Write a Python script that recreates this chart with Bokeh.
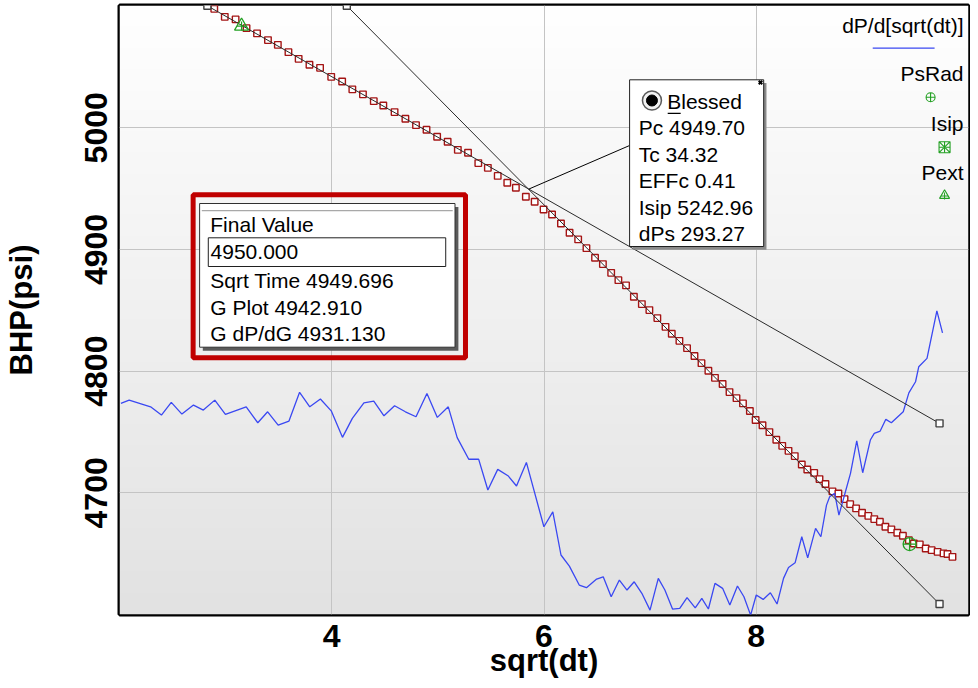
import numpy as np
from bokeh.plotting import figure
from bokeh.models import FixedTicker, Label, BoxAnnotation, Range1d
from bokeh.embed import file_html
from bokeh.resources import INLINE

# ---------------- data ----------------
sqrt_dt = [2.893, 2.992, 3.094, 3.197, 3.296, 3.399, 3.492, 3.592, 3.688, 3.790,
           3.890, 3.995, 4.098, 4.194, 4.294, 4.396, 4.486, 4.592, 4.694, 4.794,
           4.893, 4.993, 5.092, 5.188, 5.284, 5.381, 5.471, 5.564, 5.654, 5.735,
           5.829, 5.912, 5.996, 6.076, 6.160, 6.241, 6.322, 6.400, 6.481, 6.555,
           6.633, 6.701, 6.773, 6.847, 6.922, 6.993, 7.068, 7.145, 7.204, 7.276,
           7.348, 7.418, 7.484, 7.549, 7.611, 7.683, 7.748, 7.814, 7.875, 7.940,
           7.994, 8.059, 8.124, 8.189, 8.245, 8.304, 8.363, 8.429, 8.481, 8.546,
           8.596, 8.652, 8.718, 8.774, 8.832, 8.885, 8.941, 8.997, 9.056, 9.112,
           9.165, 9.217, 9.273, 9.329, 9.382, 9.438, 9.485, 9.541, 9.597, 9.653,
           9.709, 9.765, 9.802, 9.849]
bhp = [5097.8, 5091.2, 5089.1, 5081.9, 5077.6, 5072.1, 5068.2, 5062.2, 5056.7, 5051.8,
       5049.3, 5041.9, 5038.1, 5031.6, 5027.5, 5021.9, 5018.4, 5012.9, 5007.4, 5002.2,
       4998.4, 4992.6, 4988.5, 4981.9, 4979.5, 4971.0, 4967.1, 4960.5, 4954.8, 4950.7,
       4943.3, 4939.2, 4932.9, 4928.8, 4921.4, 4913.7, 4908.3, 4901.1, 4893.2, 4888.0,
       4880.8, 4874.8, 4870.5, 4861.1, 4855.1, 4850.2, 4843.6, 4836.4, 4830.7, 4824.9,
       4818.9, 4812.4, 4806.6, 4800.3, 4794.5, 4789.4, 4782.8, 4777.8, 4773.5, 4767.2,
       4759.8, 4755.6, 4749.9, 4743.6, 4738.6, 4734.5, 4730.2, 4723.3, 4719.2, 4716.4,
       4711.3, 4707.2, 4701.2, 4699.5, 4694.8, 4690.7, 4687.2, 4683.6, 4681.1, 4678.4,
       4676.2, 4672.1, 4670.0, 4667.2, 4664.7, 4661.1, 4658.4, 4657.6, 4654.3, 4652.9,
       4651.5, 4650.2, 4649.7, 4647.4]

deriv_x = [2.013, 2.091, 2.293, 2.395, 2.488, 2.588, 2.697, 2.790, 2.898, 2.998,
           3.194, 3.303, 3.396, 3.495, 3.597, 3.697, 3.793, 3.893, 3.995, 4.101,
           4.194, 4.303, 4.396, 4.492, 4.592, 4.694, 4.794, 4.897, 4.995, 5.098,
           5.182, 5.291, 5.384, 5.471, 5.564, 5.664, 5.741, 5.834, 5.999, 6.083,
           6.160, 6.239, 6.332, 6.400, 6.496, 6.558, 6.633, 6.710, 6.782, 6.850,
           6.922, 6.999, 7.077, 7.139, 7.211, 7.279, 7.348, 7.425, 7.487, 7.549,
           7.611, 7.683, 7.751, 7.823, 7.884, 7.947, 8.000, 8.065, 8.133, 8.196,
           8.257, 8.304, 8.366, 8.429, 8.485, 8.559, 8.609, 8.662, 8.692, 8.739,
           8.779, 8.832, 8.888, 8.947, 9.003, 9.075, 9.112, 9.168, 9.221, 9.273,
           9.385, 9.438, 9.501, 9.531, 9.609, 9.702, 9.755]
deriv_y = [4773.5, 4776.2, 4770.7, 4763.9, 4774.3, 4764.7, 4772.1, 4768.0, 4776.2, 4764.5,
           4770.7, 4757.6, 4766.6, 4755.7, 4759.0, 4782.6, 4770.7, 4777.1, 4767.4, 4745.6,
           4761.2, 4774.0, 4775.4, 4763.3, 4771.6, 4766.6, 4762.5, 4781.7, 4762.0, 4770.7,
           4745.4, 4727.6, 4727.7, 4702.3, 4719.3, 4713.8, 4705.6, 4725.0, 4672.1, 4684.4,
           4648.9, 4639.8, 4624.2, 4622.0, 4629.1, 4631.0, 4614.6, 4628.3, 4620.1, 4626.9,
           4617.4, 4603.6, 4629.7, 4620.1, 4604.5, 4605.0, 4613.8, 4605.5, 4613.3, 4604.5,
           4625.6, 4621.5, 4607.8, 4623.4, 4614.6, 4599.5, 4616.0, 4612.4, 4617.9, 4608.6,
           4629.7, 4638.7, 4642.5, 4663.9, 4646.6, 4670.8, 4663.9, 4689.9, 4696.8, 4699.6,
           4681.7, 4698.2, 4716.0, 4742.8, 4716.5, 4743.4, 4748.9, 4750.8, 4760.4, 4757.6,
           4766.6, 4782.2, 4791.3, 4803.6, 4810.5, 4849.6, 4831.5]

tangent_early_x = [2.828, 9.727]
tangent_early_y = [5100.3, 4757.1]
tangent_late_x = [4.142, 9.727]
tangent_late_y = [5100.3, 4608.6]

psrad_x, psrad_y = [9.445], [4657.9]
pext_x, pext_y = [3.150], [5083.6]

callout_names = ["Pc", "Tc", "EFFc", "Isip", "dPs"]
callout_values = [4949.70, 34.32, 0.41, 5242.96, 293.27]
final_value = 4950.000
final_names = ["Sqrt Time", "G Plot", "G dP/dG"]
final_values = [4949.696, 4942.910, 4931.130]

legend_names = ["dP/d[sqrt(dt)]", "PsRad", "Isip", "Pext"]
x_ticks = [4, 6, 8]
y_ticks = [4700, 4800, 4900, 5000]

# ---------------- geometry ----------------
W, H = 970, 680
LEFT, TOP, RIGHT, BOTTOM = 117, 5, 2, 66
FRAME_W = W - LEFT - RIGHT
FRAME_H = H - TOP - BOTTOM
PX_PER_PSI = 1.2167
X_START, X_END = 2.0, 10.0
Y_START = 4600.0
Y_END = Y_START + FRAME_H / PX_PER_PSI
PX_X = FRAME_W / (X_END - X_START)


def ax(px):
    """reference pixel column -> data x (for annotation placement)"""
    return X_START + (px - LEFT) / PX_X


def ay(py):
    """reference pixel row -> data y (for annotation placement)"""
    return Y_END - (py - TOP) / PX_PER_PSI


FONT = "Liberation Sans"
GREEN = "#22a022"
BLUE = "#3a48f2"

p = figure(width=W, height=H,
           x_range=Range1d(X_START, X_END), y_range=Range1d(Y_START, Y_END),
           output_backend="svg", toolbar_location=None,
           min_border_left=LEFT, min_border_right=RIGHT,
           min_border_top=TOP, min_border_bottom=BOTTOM)

p.background_fill_color = "white"
p.border_fill_color = "white"
p.outline_line_color = "black"
p.outline_line_width = 4

# gradient background of the plot area
N = 256
g = np.linspace(226, 255, N).astype(np.uint8)
img = np.empty((N, 1), dtype=np.uint32)
view = img.view(dtype=np.uint8).reshape((N, 1, 4))
view[:, 0, 0] = g
view[:, 0, 1] = g
view[:, 0, 2] = g
view[:, 0, 3] = 255
p.image_rgba(image=[img], x=X_START, y=Y_START, dw=X_END - X_START, dh=Y_END - Y_START,
             level="image")

# axes
p.xaxis.ticker = FixedTicker(ticks=x_ticks)
p.yaxis.ticker = FixedTicker(ticks=y_ticks)
p.xgrid.ticker = FixedTicker(ticks=x_ticks)
p.ygrid.ticker = FixedTicker(ticks=y_ticks)
p.grid.grid_line_color = "#c4c4c4"
p.grid.grid_line_width = 1
p.xaxis.axis_label = "sqrt(dt)"
p.yaxis.axis_label = "BHP(psi)"
for a in p.axis:
    a.axis_line_color = None
    a.major_tick_line_color = None
    a.minor_tick_line_color = None
    a.major_label_text_font = FONT
    a.major_label_text_font_style = "bold"
    a.major_label_text_font_size = "32px"
    a.major_label_text_color = "black"
    a.axis_label_text_font = FONT
    a.axis_label_text_font_style = "bold"
    a.axis_label_text_font_size = "31px"
    a.axis_label_text_color = "black"
p.yaxis.major_label_orientation = "vertical"
p.xaxis.major_label_standoff = 4
p.xaxis.axis_label_standoff = -7
p.yaxis.major_label_standoff = 6
p.yaxis.axis_label_standoff = 44

# data glyphs
p.scatter(sqrt_dt, bhp, marker="square", size=6.5, fill_color="white",
          line_color="#a41414", line_width=1.4)
p.line(deriv_x, deriv_y, line_color=BLUE, line_width=1.3)
p.line(tangent_early_x, tangent_early_y, line_color="#2a2a2a", line_width=1)
p.line(tangent_late_x, tangent_late_y, line_color="#2a2a2a", line_width=1)
p.scatter(tangent_early_x + tangent_late_x, tangent_early_y + tangent_late_y, marker="square",
          size=7, fill_color="white", line_color="#404040", line_width=1.4)

pc_value = callout_values[0]
pc_x = float(np.sqrt(callout_values[1]))
p.line([pc_x, ax(628.3)], [pc_value, ay(145)], line_color="black", line_width=1)

p.scatter(psrad_x, psrad_y, marker="circle_cross", size=13, fill_color=None,
          line_color=GREEN, line_width=1.3)
p.scatter(pext_x, pext_y, marker="triangle", size=14, fill_color=None,
          line_color=GREEN, line_width=1.3)
p.scatter(pext_x, pext_y, marker="cross", size=9, line_color=GREEN, line_width=1.2)

# legend (right side)
LR = 963
p.line([ax(872), ax(934)], [ay(47.7), ay(47.7)], line_color=BLUE, line_width=1.3)
p.scatter([ax(930)], [ay(96.7)], marker="circle_cross", size=9, fill_color=None,
          line_color=GREEN, line_width=1.1)
p.scatter([ax(944)], [ay(146.7)], marker="square_x", size=11, fill_color=None,
          line_color=GREEN, line_width=1.1)
p.scatter([ax(944)], [ay(146.7)], marker="cross", size=11, line_color=GREEN, line_width=1.1)
p.scatter([ax(944)], [ay(195)], marker="triangle", size=10, fill_color=None,
          line_color=GREEN, line_width=1.1)
p.scatter([ax(944)], [ay(195.5)], marker="cross", size=7, line_color=GREEN, line_width=1.0)
for name, py in zip(legend_names, [25, 73.3, 123, 171.7]):
    p.add_layout(Label(x=ax(LR), y=ay(py), text=name, text_align="right",
                       text_baseline="middle", text_font=FONT, text_font_size="21px",
                       text_color="black"))


def box(l, t, r, b, fill=None, line=None, lw=1):
    return BoxAnnotation(left=ax(l), right=ax(r), top=ay(t), bottom=ay(b),
                         fill_color=fill, fill_alpha=1.0 if fill else 0.0,
                         line_color=line, line_width=lw, line_alpha=1.0 if line else 0.0)


def text(px, py, s, align="left"):
    return Label(x=ax(px), y=ay(py), text=s, text_align=align, text_baseline="middle",
                 text_font=FONT, text_font_size="21px", text_color="black")


# callout box
p.add_layout(box(631.5, 82.5, 765.5, 249.3, fill="#8a8a8a"))
p.add_layout(box(628.3, 79.3, 762.7, 246, fill="white", line="#202020"))
p.add_layout(text(666, 100.5, "Blessed"))
p.add_layout(box(666.5, 112.2, 679.5, 113.6, fill="black"))
for i, (n, v) in enumerate(zip(callout_names, callout_values)):
    p.add_layout(text(637.5, 127 + i * 26.6, f"{n} {v:.2f}"))
p.scatter([ax(650.7)], [ay(100)], marker="circle", size=19, fill_color="#f2f2f2",
          line_color="#5a5a5a", line_width=1.5, level="overlay")
p.scatter([ax(650.7)], [ay(100)], marker="circle", size=11, fill_color="black",
          line_color="black", level="overlay")
p.scatter([ax(759.5)], [ay(82)], marker="x", size=5, line_color="black", line_width=2,
          level="overlay")

# final value box
p.add_layout(box(200.5, 206.5, 456.7, 350.3, fill="#5a5a5a"))
p.add_layout(box(197.3, 203, 453.3, 346.7, fill="white", line="#303030"))
p.add_layout(box(199.5, 209.5, 451, 210.8, fill="#a8a8a8"))
p.add_layout(text(208, 224, "Final Value"))
p.add_layout(box(206, 237.3, 444, 266, fill="white", line="#202020"))
p.add_layout(text(208.3, 251, f"{final_value:.3f}"))
for i, (n, v) in enumerate(zip(final_names, final_values)):
    p.add_layout(text(208, 280 + i * 26.7, f"{n} {v:.3f}"))
p.add_layout(box(190.8, 194.2, 463.8, 357.2, line="#c00000", lw=5))

open("out.html", "w").write(file_html(p, INLINE))
